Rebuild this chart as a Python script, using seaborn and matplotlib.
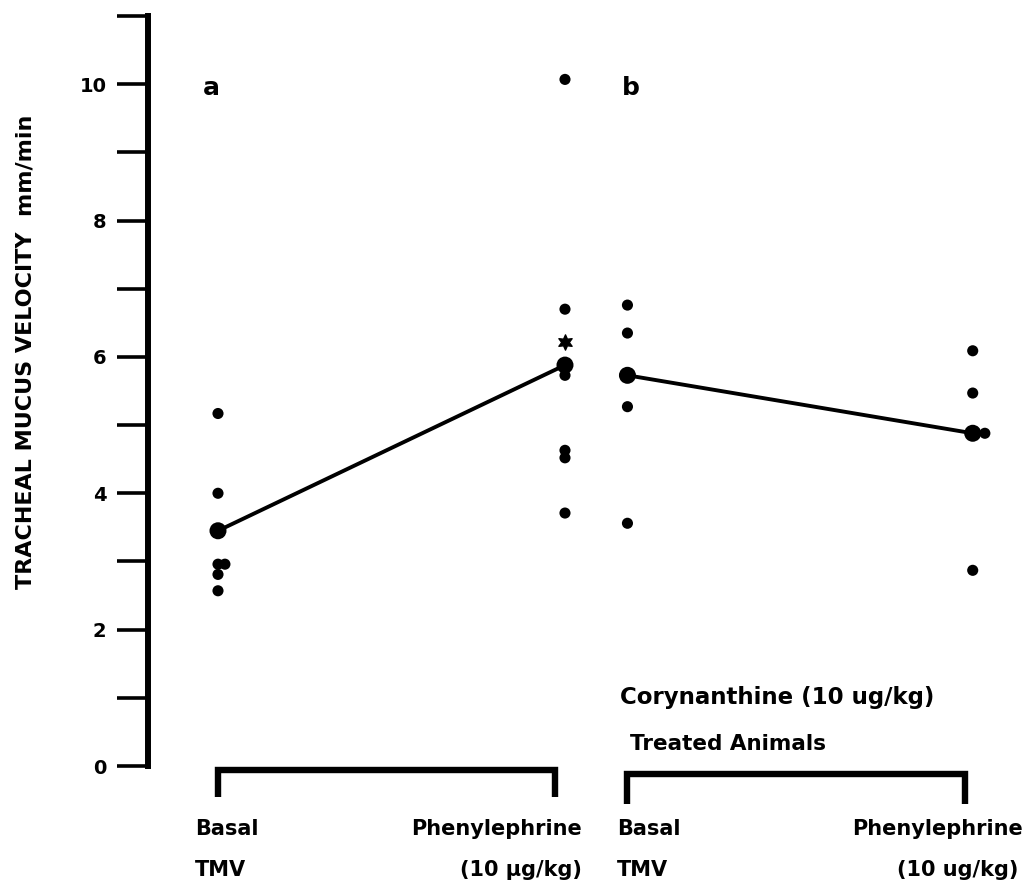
import numpy as np
import pandas as pd
import matplotlib
matplotlib.use("Agg")
import matplotlib.pyplot as plt
import seaborn as sns

# Individual tracheal mucus velocities (mm/min)
basal_a = [5.17, 4.00, 2.96, 2.96, 2.81, 2.57]
phen_a = [10.07, 6.70, 5.88, 5.73, 4.63, 4.52, 3.71]
basal_b = [6.76, 6.35, 5.71, 5.27, 3.56]
phen_b = [6.09, 5.47, 4.88, 4.88, 2.87]

# Group means
means_a = [3.45, 5.88]
means_b = [5.73, 4.88]
star_a = 6.22  # significance marker above the phenylephrine group

tick_values = [0, 2, 4, 6, 8, 10]

# Horizontal placement of the four groups and small offsets for coincident points
pos = {"basal_a": 0.0, "phen_a": 1.0, "basal_b": 1.18, "phen_b": 2.175}
offsets = {
    "basal_a": [0, 0, 0, 0.02, 0, 0],
    "phen_a": [0, 0, 0, 0, 0, 0, 0],
    "basal_b": [0, 0, 0, 0, 0],
    "phen_b": [0, 0, 0, 0.035, 0],
}
groups = {"basal_a": basal_a, "phen_a": phen_a, "basal_b": basal_b, "phen_b": phen_b}

rows = []
for g, vals in groups.items():
    for v, dx in zip(vals, offsets[g]):
        rows.append({"x": pos[g] + dx, "y": v, "group": g})
pts = pd.DataFrame(rows)

mean_df = pd.DataFrame({
    "x": [pos["basal_a"], pos["phen_a"], pos["basal_b"], pos["phen_b"]],
    "y": means_a + means_b,
    "panel": ["a", "a", "b", "b"],
})

sns.set_theme(style="white")
plt.rcParams["font.family"] = ["DejaVu Sans"]
plt.rcParams["font.weight"] = "bold"
for key in ["text.color", "axes.labelcolor", "xtick.color", "ytick.color"]:
    plt.rcParams[key] = "black"

fig = plt.figure(figsize=(10.24, 8.82), dpi=100)
ax = fig.add_axes([148 / 1024, 116 / 882, 876 / 1024, 750 / 882])
ax.set_xlim(-0.2017, 2.3228)
ax.set_ylim(0, 11)

# Mean lines and mean markers
for panel, sub in mean_df.groupby("panel"):
    sns.lineplot(data=sub, x="x", y="y", ax=ax, color="black", linewidth=2.8,
                 sort=False, legend=False, estimator=None)
sns.scatterplot(data=mean_df, x="x", y="y", ax=ax, color="black", s=150,
                edgecolor="none", legend=False, zorder=4)

# Individual animals
sns.scatterplot(data=pts, x="x", y="y", ax=ax, color="black", s=64,
                edgecolor="none", legend=False, zorder=5)

# Significance star
ax.scatter([pos["phen_a"]], [star_a], marker=(6, 1, 0), s=120, color="black",
           zorder=5)

# Axis styling
for side in ["top", "right", "bottom"]:
    ax.spines[side].set_visible(False)
ax.spines["left"].set_linewidth(4.3)
ax.spines["left"].set_color("black")
ax.set_yticks(tick_values)
ax.set_yticks([1, 3, 5, 7, 9, 11], minor=True)
ax.set_yticklabels([str(t) for t in tick_values], fontsize=14, fontweight="bold")
ax.tick_params(axis="y", which="both", direction="out", length=22, width=2.6,
               color="black", pad=8, left=True)
ax.set_xticks([])
ax.set_xlabel("")
ax.set_ylabel("TRACHEAL MUCUS VELOCITY  mm/min", fontsize=16, fontweight="bold")
ax.yaxis.set_label_coords(-0.128, 0.552)

# Panel letters
ax.text(-0.02, 9.95, "a", fontsize=18, fontweight="bold", ha="center", va="center")
ax.text(1.19, 9.95, "b", fontsize=18, fontweight="bold", ha="center", va="center")

# Treatment annotation
ax.text(1.158, 1.01, "Corynanthine (10 ug/kg)", fontsize=16.5, fontweight="bold",
        ha="left", va="center")
ax.text(1.187, 0.32, "Treated Animals", fontsize=15.5, fontweight="bold",
        ha="left", va="center")

# Group brackets below the axis
def bracket(x0, x1, ytop, ybot):
    ax.plot([x0, x0, x1, x1], [ybot, ytop, ytop, ybot], color="black",
            linewidth=4.6, solid_joinstyle="miter", solid_capstyle="butt",
            clip_on=False)

bracket(0.0, 0.97, -0.06, -0.46)
bracket(1.18, 2.153, -0.12, -0.55)

label_kw = dict(fontsize=15, fontweight="bold", va="center", clip_on=False)
ax.text(-0.066, -0.92, "Basal", ha="left", **label_kw)
ax.text(-0.066, -1.52, "TMV", ha="left", **label_kw)
ax.text(1.049, -0.92, "Phenylephrine", ha="right", **label_kw)
ax.text(1.049, -1.52, "(10 \u00b5g/kg)", ha="right", **label_kw)
ax.text(1.15, -0.92, "Basal", ha="left", **label_kw)
ax.text(1.15, -1.52, "TMV", ha="left", **label_kw)
ax.text(2.319, -0.92, "Phenylephrine", ha="right", **label_kw)
ax.text(2.308, -1.52, "(10 ug/kg)", ha="right", **label_kw)

fig.savefig("out.png", dpi=100)
